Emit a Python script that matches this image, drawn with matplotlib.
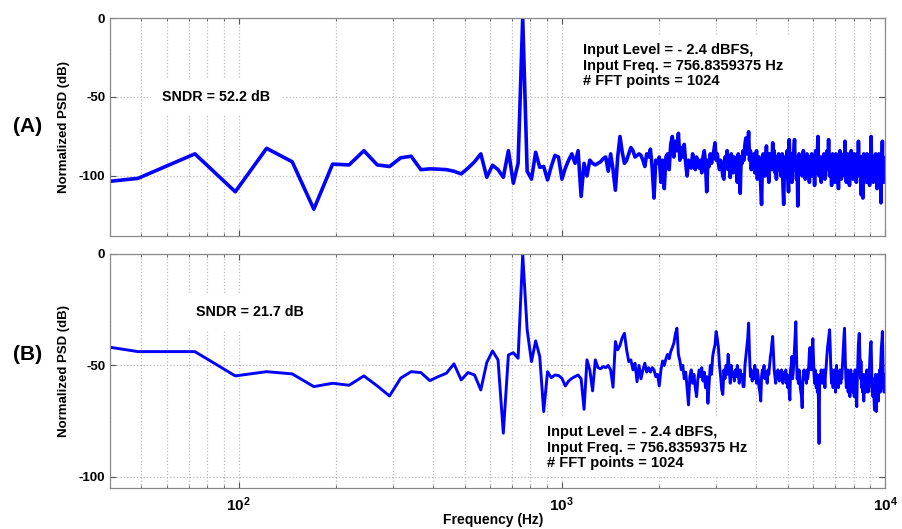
import numpy as np
import matplotlib
matplotlib.use("Agg")
import matplotlib.pyplot as plt
from matplotlib.ticker import FixedLocator, LogLocator, FuncFormatter, NullFormatter

plt.rcParams['font.family'] = ['Liberation Sans', 'DejaVu Sans']
plt.rcParams['font.weight'] = 'bold'
plt.rcParams['axes.labelweight'] = 'bold'
plt.rcParams['axes.unicode_minus'] = False
plt.rcParams['mathtext.fontset'] = 'custom'
plt.rcParams['mathtext.rm'] = 'Liberation Sans:bold'
plt.rcParams['mathtext.bf'] = 'Liberation Sans:bold'

# FFT bin grid: fs = 25 kHz, 1024 points -> bins 1..409 (up to 10 kHz)
fs = 25000.0
n_fft = 1024
bins = np.arange(1, 410)
freqs = bins * fs / n_fft

# (A) normalized PSD in dB, bin 1..40
psd_a_low = [-108, -101.5, -86, -110, -82.5, -91, -121, -92.5, -93, -84,
             -93, -94, -88.5, -87.5, -96, -95.5, -95.7, -96, -97, -98.7,
             -95, -91, -86, -100.8, -93.2, -96, -100.8, -84, -104.6, -92,
             0, -97, -102, -85, -94.5, -94, -102.5, -94, -87, -88]
# bins 41..409 (dense part, estimated)
psd_a_high = [
    -102, -95, -90, -86, -92, -84, -113, -92, -100, -90, -92, -93, -92, -91, -89, -88, -97, -86, -96, -109,
    -88, -75, -85, -92, -90, -86, -82, -84, -88, -87, -86, -87, -90, -94, -86, -88, -83, -95, -114, -90,
    -92, -88, -104, -90, -108, -88, -86, -96, -80, -75, -88, -78, -84, -73, -90, -82, -88, -80, -92, -100,
    -90, -92, -95, -86, -92, -96, -88, -93, -95, -90, -98, -88, -84, -92, -110, -90, -94, -86, -92, -88,
    -84, -79, -90, -86, -92, -96, -90, -94, -100, -102, -88, -92, -84, -96, -90, -101, -86, -92, -98, -88,
    -94, -90, -104, -86, -96, -111, -88, -92, -84, -90, -80, -76, -86, -82, -72, -90, -84, -96, -88, -92,
    -86, -98, -90, -84, -102, -92, -88, -96, -106, -118, -90, -86, -94, -100, -88, -81, -92, -96, -104, -86,
    -92, -88, -96, -79, -90, -84, -98, -92, -102, -88, -94, -86, -96, -90, -100, -92, -86, -106, -118, -94,
    -88, -96, -90, -84, -100, -110, -77, -92, -98, -86, -104, -90, -94, -84, -77, -96, -90, -102, -88, -119,
    -92, -86, -98, -90, -94, -88, -100, -92, -84, -96, -90, -102, -88, -94, -86, -98, -92, -90, -104, -88,
    -94, -90, -86, -100, -92, -96, -88, -106, -90, -84, -94, -98, -86, -75, -92, -100, -88, -96, -90, -104,
    -88, -94, -92, -98, -86, -90, -102, -92, -88, -96, -84, -90, -94, -77, -92, -100, -88, -96, -90, -106,
    -92, -86, -98, -90, -94, -88, -104, -92, -86, -96, -90, -100, -94, -108, -88, -92, -84, -96, -90, -102,
    -88, -94, -90, -98, -86, -92, -100, -78, -96, -90, -104, -88, -94, -86, -98, -92, -90, -106, -88, -96,
    -90, -84, -98, -92, -88, -102, -94, -90, -86, -100, -92, -96, -88, -104, -90, -94, -86, -98, -78, -92,
    -100, -88, -96, -90, -94, -112, -88, -92, -96, -114, -90, -86, -98, -92, -100, -88, -94, -90, -104, -86,
    -96, -90, -92, -100, -88, -94, -106, -90, -86, -98, -75, -92, -100, -88, -96, -90, -104, -92, -88, -98,
    -90, -94, -86, -100, -92, -96, -108, -88, -94, -90, -102, -86, -96, -92, -100, -88, -94, -117, -90, -98,
    -92, -78, -100, -88, -96, -104, -90, -94, -98]

# (B) normalized PSD in dB, bin 1..40
psd_b_low = [-37, -43.8, -43.8, -54.7, -52.8, -53.8, -59.5, -58, -58.9, -54.7,
             -59.2, -63.7, -55.7, -52.8, -53.2, -56.8, -55, -53.5, -49.3, -56.5,
             -53.2, -54.3, -61, -48.7, -43.5, -47.5, -80.4, -45.3, -44.3, -46.8,
             0, -34, -48.3, -39, -46, -70.7, -52.8, -55.5, -54.3, -54.5]
# bins 41..409
psd_b_high = [
    -55.8, -59.2, -57, -55.8, -55, -54.3, -56, -69.7, -47.5, -52, -61.4, -47.5, -51, -51.5, -50.5, -51, -50, -52, -59.8, -39.3,
    -43, -41, -37.5, -35.6, -43, -48.3, -47.5, -52, -49, -57.3, -50, -56, -52, -49, -53, -51, -53, -51, -52, -55,
    -54, -59.2, -52, -48, -50, -47, -45, -47, -43.8, -42, -40, -36, -33.3, -45, -48, -52, -50, -56, -53, -60,
    -67.7, -55, -52, -58, -54, -60, -64, -56, -52, -55, -51, -57, -53, -60, -55, -67, -58, -50, -54, -46,
    -43, -40.8, -34.8, -38, -42, -50, -55, -61, -63, -52, -56, -50, -54, -45, -52, -58, -50, -55, -53, -57,
    -52, -55, -50, -54, -58, -52, -56, -54, -59.5, -59.5, -50, -46, -42, -38, -31, -45, -55, -52, -57, -53,
    -56, -50, -54, -58, -52, -55, -60, -62, -66, -55, -52, -54, -50, -56, -53, -55, -58, -52, -54, -50,
    -46, -44, -40, -37, -45, -52, -55, -58, -53, -56, -52, -54, -57, -53, -55, -52, -56, -58, -54, -53,
    -56, -52, -58, -54, -60, -56, -62, -65.5, -52, -50, -46, -56, -53, -48, -42, -36, -30.4, -45, -56, -54,
    -58, -52, -55, -60, -62, -64, -69, -58, -54, -52, -56, -53, -55, -58, -52, -56, -54, -50, -44, -42,
    -46, -52, -48, -42, -38, -46, -54, -58, -52, -56, -60, -54, -62, -58, -66, -85, -60, -54, -56, -52,
    -55, -58, -54, -57, -52, -56, -60, -54, -52, -48, -45, -42, -40, -38, -36, -34, -40, -48, -54, -58,
    -52, -56, -60, -54, -58, -52, -56, -62, -54, -50, -58, -53, -56, -60, -54, -57, -52, -55, -58, -53,
    -56, -52, -48, -44, -40, -36, -33.3, -42, -50, -56, -60, -54, -58, -52, -62, -56, -54, -60, -64, -56,
    -52, -58, -54, -60, -56, -62, -54, -58, -64, -56, -52, -60, -58, -66, -68.5, -58, -52, -46, -40, -38,
    -35.6, -42, -50, -56, -48, -54, -60, -56, -62, -58, -54, -66, -60, -55, -58, -62, -54, -60, -56, -52,
    -58, -54, -62, -56, -60, -54, -50, -46, -42, -40, -39.3, -48, -56, -62, -58, -64, -56, -60, -66, -70,
    -58, -62, -54, -60, -70.7, -56, -64, -58, -62, -54, -66, -58, -60, -52, -56, -62, -50, -46, -42, -40,
    -38, -34.8, -42, -52, -60, -56, -62, -54, -59]

psd_a = np.array(psd_a_low + psd_a_high)
psd_b = np.array(psd_b_low + psd_b_high)

sndr_a = "SNDR = 52.2 dB"
sndr_b = "SNDR = 21.7 dB"
info = "Input Level = - 2.4 dBFS,\nInput Freq. = 756.8359375 Hz\n# FFT points = 1024"

W, H = 903, 529
fig = plt.figure(figsize=(W / 100, H / 100), dpi=100)

def px_axes(x0, y0, x1, y1):
    return fig.add_axes([x0 / W, 1 - y1 / H, (x1 - x0) / W, (y1 - y0) / H])

ax_a = px_axes(110, 18, 885, 236)
ax_b = px_axes(110, 254, 885, 488)

def style(ax, ylim, show_x):
    ax.set_xscale('log')
    ax.set_xlim(40, 1e4)
    ax.set_ylim(*ylim)
    ax.set_yticks([-100, -50, 0])
    ax.xaxis.set_major_locator(FixedLocator([1e2, 1e3, 1e4]))
    ax.xaxis.set_minor_locator(LogLocator(base=10, subs=np.arange(2, 10)))
    ax.xaxis.set_minor_formatter(NullFormatter())
    if show_x:
        ax.xaxis.set_major_formatter(FuncFormatter(lambda v, p: r'$\mathbf{10^{%d}}$' % round(np.log10(v))))
    else:
        ax.xaxis.set_major_formatter(NullFormatter())
    ax.grid(True, which='both', axis='x', color='#bcbcbc', linestyle=':', linewidth=0.9)
    ax.grid(True, which='major', axis='y', color='#bcbcbc', linestyle=':', linewidth=0.9)
    ax.tick_params(which='both', direction='in', top=True, right=True, colors='#555555',
                   labelcolor='black', labelsize=9.5)
    ax.tick_params(axis='x', which='major', labelsize=11, pad=5)
    ax.tick_params(which='major', length=4)
    ax.tick_params(which='minor', length=2.5)
    for s in ax.spines.values():
        s.set_color('#8a8a8a')
        s.set_linewidth(0.9)
    ax.set_ylabel("Normalized PSD (dB)", fontsize=9.5)
    ax.yaxis.set_label_coords(-0.052, 0.5)

style(ax_a, (-138, 0), False)
style(ax_b, (-105, 0), True)

ax_a.plot(freqs, psd_a, color='#0000ff', linewidth=2.6, solid_joinstyle='round')
ax_b.plot(freqs, psd_b, color='#0000ff', linewidth=2.1, solid_joinstyle='round')

box = dict(facecolor='white', edgecolor='none', pad=5)
ax_a.text(0.137, 0.638, sndr_a, transform=ax_a.transAxes, ha='center', va='center',
          fontsize=10.3, bbox=dict(facecolor='white', edgecolor='none', pad=8), zorder=5)
ax_a.text(0.61, 0.885, info, transform=ax_a.transAxes, ha='left', va='top',
          fontsize=10.5, linespacing=1.15, bbox=box, zorder=5)
ax_b.text(0.18, 0.752, sndr_b, transform=ax_b.transAxes, ha='center', va='center',
          fontsize=10.3, bbox=dict(facecolor='white', edgecolor='none', pad=8), zorder=5)
ax_b.text(0.564, 0.269, info, transform=ax_b.transAxes, ha='left', va='top',
          fontsize=10.5, linespacing=1.15, bbox=box, zorder=5)

ax_b.set_xlabel("Frequency (Hz)", fontsize=10)
ax_b.xaxis.set_label_coords(0.495, -0.105)

fig.text(28 / W, 1 - 127 / H, "(A)", fontsize=15, ha='center', va='center')
fig.text(28 / W, 1 - 355 / H, "(B)", fontsize=15, ha='center', va='center')

fig.savefig("out.png", dpi=100)
